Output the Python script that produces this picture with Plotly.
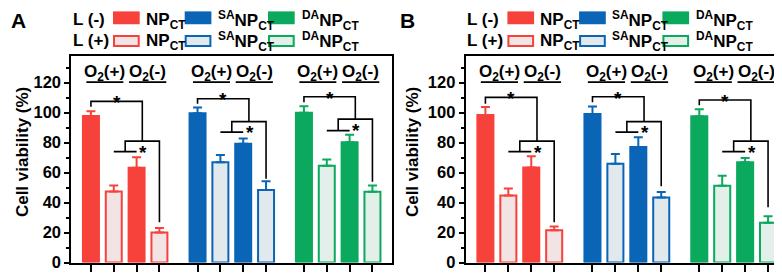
import plotly.graph_objects as go

W, H = 782, 273

# ---------------- data ----------------
bar_slots = [0, 1, 2, 3]                 # O2(+)L(-), O2(+)L(+), O2(-)L(-), O2(-)L(+)
group_offsets = [0, 4.67, 9.33]
solid_colors = ["#F7423B", "#0A65B7", "#0BA95D"]
light_colors = ["#F2E3E5", "#E1E9ED", "#E3F0EA"]
legend_labels = ["NP<sub>CT</sub>", "<sup>SA</sup>NP<sub>CT</sub>", "<sup>DA</sup>NP<sub>CT</sub>"]

# Panel A
A_red = [97.8, 47.5, 63.3, 20.1]
A_red_err = [3.2, 3.9, 6.9, 3.0]
A_blue = [99.6, 67.0, 79.3, 48.4]
A_blue_err = [3.9, 4.7, 3.4, 5.8]
A_green = [100.0, 64.6, 80.3, 47.3]
A_green_err = [4.3, 4.1, 5.0, 4.1]

# Panel B
B_red = [98.5, 44.7, 63.5, 21.6]
B_red_err = [5.2, 4.8, 7.5, 2.4]
B_blue = [99.1, 65.9, 77.1, 43.4]
B_blue_err = [5.0, 6.5, 6.5, 3.7]
B_green = [97.6, 51.2, 67.0, 26.6]
B_green_err = [4.6, 6.7, 2.8, 4.3]

# significance bracket levels (per group: red, blue, green)
A_brk_top = [107.5, 109.3, 110.6]
A_brk_left = [104, 106, 107]
A_brk_mid = [81, 94, 95.7]
A_brk_short = [74, 87, 88]
A_brk_right = [27, 56, 54]

B_brk_top = [110.2, 110.6, 108.4]
B_brk_left = [106, 107, 105]
B_brk_mid = [81, 94, 81]
B_brk_short = [74, 87, 74]
B_brk_right = [27, 51, 37]

yticks = [0, 20, 40, 60, 80, 100, 120]
yminor = [10, 30, 50, 70, 90, 110, 130]

panels = [
    dict(letter="A", vals=[A_red, A_blue, A_green], errs=[A_red_err, A_blue_err, A_green_err],
         top=A_brk_top, left=A_brk_left, mid=A_brk_mid, short=A_brk_short, right=A_brk_right,
         x0=63.3, x1=384.3),
    dict(letter="B", vals=[B_red, B_blue, B_green], errs=[B_red_err, B_blue_err, B_green_err],
         top=B_brk_top, left=B_brk_left, mid=B_brk_mid, short=B_brk_short, right=B_brk_right,
         x0=457.7, x1=780.0),
]

FONT = "Liberation Sans, Arial, sans-serif"
fig = go.Figure()
shapes = []
annotations = []

def px_x(p):
    return p / W

def px_y(p):
    return 1 - p / H

ydom = [1 - 263.3 / H, 1 - 49.3 / H]
all_pos = [g + s for g in group_offsets for s in bar_slots]

for pi, P in enumerate(panels):
    sfx = "" if pi == 0 else str(pi + 1)
    xref = "x" + sfx
    yref = "y" + sfx
    for gi in range(3):
        xs = [group_offsets[gi] + s for s in bar_slots]
        fills = [solid_colors[gi], light_colors[gi], solid_colors[gi], light_colors[gi]]
        fig.add_trace(go.Bar(
            x=xs, y=P["vals"][gi], width=0.7,
            marker=dict(color=fills, line=dict(color=solid_colors[gi], width=2)),
            error_y=dict(type="data", array=P["errs"][gi], arrayminus=[0] * 4, symmetric=False,
                         color=solid_colors[gi], thickness=2, width=4.5),
            xaxis=xref, yaxis=yref, showlegend=False, hoverinfo="skip",
        ))
        g0 = group_offsets[gi]
        # brackets
        pathA = (f"M {g0},{P['left'][gi]} L {g0},{P['top'][gi]} "
                 f"L {g0 + 2.25},{P['top'][gi]} L {g0 + 2.25},{P['mid'][gi]}")
        pathB = (f"M {g0 + 1.5},{P['short'][gi]} L {g0 + 1.5},{P['mid'][gi]} "
                 f"L {g0 + 3},{P['mid'][gi]} L {g0 + 3},{P['right'][gi]}")
        pathS = f"M {g0 + 1},{P['short'][gi]} L {g0 + 2},{P['short'][gi]}"
        for pth in (pathA, pathB, pathS):
            shapes.append(dict(type="path", path=pth, xref=xref, yref=yref,
                               line=dict(color="black", width=1.6)))
        annotations.append(dict(text="<b>*</b>", x=g0 + 1.125, y=P["top"][gi] + 2.5,
                                xref=xref, yref=yref, showarrow=False, yshift=-5,
                                font=dict(family=FONT, size=19, color="black")))
        annotations.append(dict(text="<b>*</b>", x=g0 + 2.3, y=P["mid"][gi] - 4,
                                xref=xref, yref=yref, showarrow=False, yshift=-5,
                                font=dict(family=FONT, size=19, color="black")))
        # O2 labels
        for (a, b), lab in zip([(-0.2, 1.42), (1.67, 3.3)], ["O<sub>2</sub>(+)", "O<sub>2</sub>(-)"]):
            shapes.append(dict(type="line", x0=g0 + a, x1=g0 + b, y0=120.3, y1=120.3,
                               xref=xref, yref=yref, line=dict(color="black", width=1.8)))
            annotations.append(dict(text="<b>" + lab + "</b>", x=g0 + (a + b) / 2, y=126.5,
                                    xref=xref, yref=yref, showarrow=False,
                                    font=dict(family=FONT, size=17, color="black")))

    # axes
    fig.update_layout(**{
        "xaxis" + sfx: dict(domain=[px_x(P["x0"]), px_x(P["x1"])], range=[-0.86, 13.2],
                            showline=True, linewidth=2, linecolor="black", mirror=True,
                            tickmode="array", tickvals=all_pos, ticks="outside", ticklen=7,
                            tickwidth=2, tickcolor="black", showticklabels=False,
                            showgrid=False, zeroline=False, anchor=yref),
        "yaxis" + sfx: dict(domain=ydom, range=[0, 138], showline=True, linewidth=2,
                            linecolor="black", mirror=True, tickmode="array", tickvals=yticks,
                            ticktext=["<b>%d</b>" % v for v in yticks],
                            ticks="outside", ticklen=5, tickwidth=2, tickcolor="black",
                            minor=dict(tickmode="array", tickvals=yminor, ticks="outside",
                                       ticklen=3, tickwidth=1.5, tickcolor="black"),
                            tickfont=dict(family=FONT, size=16.5, color="black"),
                            showgrid=False, zeroline=False, anchor=xref),
    })

    off = P["x0"] - 63.3
    # panel letter
    annotations.append(dict(text="<b>" + P["letter"] + "</b>", x=px_x(1.0 + (0 if pi == 0 else 388.5)),
                            y=px_y(13.3), xref="paper", yref="paper", xanchor="left",
                            yanchor="middle", showarrow=False,
                            font=dict(family=FONT, size=21, color="black")))
    # y title
    annotations.append(dict(text="<b>Cell viability (%)</b>", textangle=-90,
                            x=px_x(14 + (0 if pi == 0 else 390)), y=px_y(149),
                            xref="paper", yref="paper", xanchor="center", yanchor="middle",
                            showarrow=False, font=dict(family=FONT, size=17, color="black")))
    # legend
    for ri, (rowlab, yc, yb0, yb1) in enumerate([("L (-)", 11.5, 3.5, 16.8), ("L (+)", 33.5, 28.0, 40.3)]):
        annotations.append(dict(text="<b>" + rowlab + "</b>", x=px_x(62.5 + off), y=px_y(yc),
                                xref="paper", yref="paper", xanchor="left", yanchor="middle",
                                showarrow=False, font=dict(family=FONT, size=17, color="black")))
        for gi, (bx0, tx) in enumerate([(105.0, 136.0), (176.7, 207.5), (260.0, 292.0)]):
            if ri == 0:
                shapes.append(dict(type="rect", xref="paper", yref="paper",
                                   x0=px_x(bx0 + off), x1=px_x(bx0 + 26.7 + off),
                                   y0=px_y(yb1), y1=px_y(yb0),
                                   fillcolor=solid_colors[gi], line=dict(width=0)))
            else:
                shapes.append(dict(type="rect", xref="paper", yref="paper",
                                   x0=px_x(bx0 + 1 + off), x1=px_x(bx0 + 25.7 + off),
                                   y0=px_y(yb1 - 1), y1=px_y(yb0 + 1),
                                   fillcolor=light_colors[gi],
                                   line=dict(color=solid_colors[gi], width=2)))
            annotations.append(dict(text="<b>" + legend_labels[gi] + "</b>", x=px_x(tx + off),
                                    y=px_y(yc + 1.5), xref="paper", yref="paper", xanchor="left",
                                    yanchor="middle", showarrow=False,
                                    font=dict(family=FONT, size=17, color="black")))

fig.update_layout(
    width=W, height=H, margin=dict(l=0, r=0, t=0, b=0),
    paper_bgcolor="white", plot_bgcolor="white", barmode="overlay",
    shapes=shapes, annotations=annotations, showlegend=False,
)

fig.write_html("out.html")
